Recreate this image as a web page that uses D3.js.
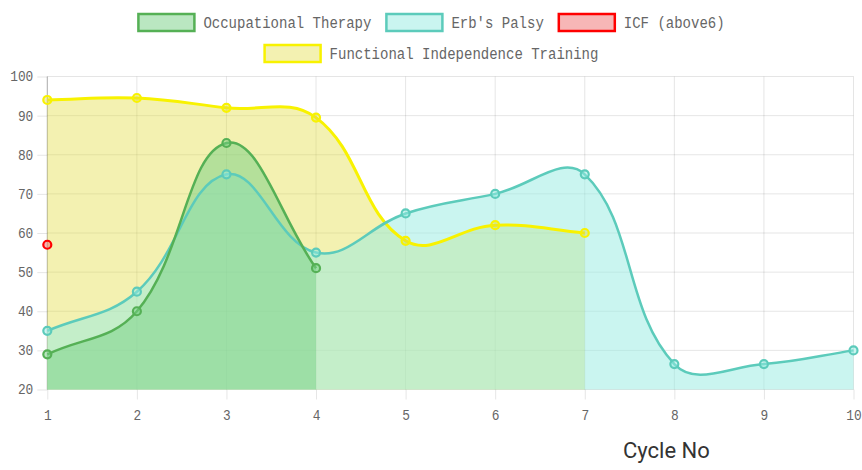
<!DOCTYPE html>
<html>
<head>
<meta charset="utf-8">
<script src="https://cdn.jsdelivr.net/npm/d3@7"></script>
<style>
  html, body { margin: 0; padding: 0; background: #fff; }
  .tick text { font-family: 'Liberation Mono', monospace; font-size: 14px; fill: #666; }
  .legend text { font-family: 'Liberation Mono', monospace; font-size: 16px; fill: #666; }
</style>
</head>
<body>
<svg class="chart"></svg>
<script>
const app = (function () {
  'use strict';

  // data
  const cycles = [1, 2, 3, 4, 5, 6, 7, 8, 9, 10];
  const occupational = [29, 40, 83, 51];
  const erbs = [35, 45, 75, 55, 65, 70, 75, 26.5, 26.5, 30];
  const icf = [57];
  const fit = [94, 94.5, 92, 89.5, 58, 62, 60];
  const yTicks = [20, 30, 40, 50, 60, 70, 80, 90, 100];
  const seriesNames = ['Occupational Therapy', 'Erb\'s Palsy', 'ICF (above6)', 'Functional Independence Training'];

  function init () {
    const w = 862;
    const h = 470;
    const left = 47.3;
    const right = 853.5;
    const top = 76.5;
    const bottom = 389.5;

    const series = [
      { name: seriesNames[0], values: occupational, stroke: '#55b055', fill: 'rgba(117,207,131,0.5)', width: 2.5 },
      { name: seriesNames[1], values: erbs, stroke: '#5ccbbb', fill: 'rgba(150,235,225,0.5)', width: 2.5 },
      { name: seriesNames[2], values: icf, stroke: '#ff0000', fill: 'rgba(240,110,110,0.5)', width: 2.5 },
      { name: seriesNames[3], values: fit, stroke: '#f8f200', fill: 'rgba(225,220,60,0.4)', width: 3 }
    ];

    const xScale = d3.scaleLinear()
      .domain([cycles[0], cycles[cycles.length - 1]])
      .range([left, right]);

    const yScale = d3.scaleLinear()
      .domain([yTicks[0], yTicks[yTicks.length - 1]])
      .range([bottom, top]);

    const svg = d3.select('.chart')
      .attr('width', w)
      .attr('height', h);

    // grid
    svg.append('g')
      .selectAll('line')
      .data(yTicks)
      .enter()
      .append('line')
      .attr('x1', left).attr('x2', right)
      .attr('y1', function (d) { return yScale(d); })
      .attr('y2', function (d) { return yScale(d); })
      .attr('stroke', 'rgba(0,0,0,0.1)');
    svg.append('g')
      .selectAll('line')
      .data(cycles)
      .enter()
      .append('line')
      .attr('x1', function (d) { return xScale(d); })
      .attr('x2', function (d) { return xScale(d); })
      .attr('y1', top).attr('y2', bottom)
      .attr('stroke', 'rgba(0,0,0,0.1)');

    const yAxis = d3.axisLeft(yScale).tickValues(yTicks).tickSize(10).tickPadding(4);
    const xAxis = d3.axisBottom(xScale).tickValues(cycles).tickSize(10).tickPadding(11);

    const gy = svg.append('g')
      .attr('transform', 'translate(' + left + ',0)')
      .call(yAxis);
    gy.select('.domain').remove();
    gy.selectAll('.tick line').attr('stroke', 'rgba(0,0,0,0.1)');
    gy.selectAll('.tick text').attr('textLength', function (d) { return String(d).length * 7.7; })
      .attr('lengthAdjust', 'spacingAndGlyphs');

    const gx = svg.append('g')
      .attr('transform', 'translate(0,' + bottom + ')')
      .call(xAxis);
    gx.select('.domain').remove();
    gx.selectAll('.tick line').attr('stroke', 'rgba(0,0,0,0.1)');
    gx.selectAll('.tick text').attr('textLength', function (d) { return String(d).length * 7.7; })
      .attr('lengthAdjust', 'spacingAndGlyphs');

    // left axis line
    svg.append('line')
      .attr('x1', left).attr('x2', left)
      .attr('y1', top).attr('y2', bottom)
      .attr('stroke', 'rgba(0,0,0,0.25)');

    const curve = chartSpline(0.4, left, right, top, bottom);

    const area = d3.area()
      .x(function (d, i) { return xScale(cycles[i]); })
      .y0(yScale(yTicks[0]))
      .y1(function (d) { return yScale(d); })
      .curve(curve);

    const line = d3.line()
      .x(function (d, i) { return xScale(cycles[i]); })
      .y(function (d) { return yScale(d); })
      .curve(curve);

    const drawOrder = series.slice().reverse();

    // fills first (last dataset at the bottom)
    drawOrder.forEach(function (s) {
      if (s.values.length < 2) return;
      svg.append('path')
        .datum(s.values)
        .attr('d', area)
        .attr('fill', s.fill);
    });

    drawOrder.forEach(function (s) {
      if (s.values.length > 1) {
        svg.append('path')
          .datum(s.values)
          .attr('d', line)
          .attr('fill', 'none')
          .attr('stroke', s.stroke)
          .attr('stroke-width', s.width);
      }
      svg.append('g')
        .selectAll('circle')
        .data(s.values)
        .enter()
        .append('circle')
        .attr('cx', function (d, i) { return xScale(cycles[i]); })
        .attr('cy', function (d) { return yScale(d); })
        .attr('r', 4)
        .attr('fill', s.fill)
        .attr('stroke', s.stroke)
        .attr('stroke-width', 2.2);
    });

    // legend, wrapped into centred rows
    const boxW = 58;
    const boxH = 17;
    const charW = 8.4;
    const gap = 14;
    const rows = [[]];
    let rowW = 0;
    series.forEach(function (s) {
      const itemW = boxW + 8 + s.name.length * charW;
      if (rowW > 0 && rowW + gap + itemW > w - 40) {
        rows.push([]);
        rowW = 0;
      }
      rows[rows.length - 1].push({ s: s, w: itemW });
      rowW += (rowW > 0 ? gap : 0) + itemW;
    });

    const legend = svg.append('g').attr('class', 'legend');
    rows.forEach(function (row, r) {
      const total = d3.sum(row, function (d) { return d.w; }) + gap * (row.length - 1);
      let x = (w - total) / 2;
      const cy = 22.5 + r * 31;
      row.forEach(function (item) {
        legend.append('rect')
          .attr('x', x + 1).attr('y', cy - boxH / 2)
          .attr('width', boxW - 2).attr('height', boxH)
          .attr('fill', item.s.fill)
          .attr('stroke', item.s.stroke)
          .attr('stroke-width', 2.5);
        legend.append('text')
          .attr('x', x + boxW + 8)
          .attr('y', cy + 5.5)
          .attr('textLength', item.s.name.length * charW)
          .attr('lengthAdjust', 'spacingAndGlyphs')
          .text(item.s.name);
        x += item.w + gap;
      });
    });

    // xAxis label
    svg.append('text')
      .attr('x', 623)
      .attr('y', 458)
      .style('font-family', 'Roboto, sans-serif')
      .style('font-size', '22px')
      .style('fill', '#333')
      .text('Cycle No');
  }

  // bezier spline like the one used by the original chart (distance weighted)
  function chartSpline (tension, x0, x1, y0, y1) {
    function cx (v) { return Math.max(x0, Math.min(x1, v)); }
    function cy (v) { return Math.max(y0, Math.min(y1, v)); }
    return function (context) {
      let pts;
      let ln;
      return {
        areaStart: function () { ln = 0; },
        areaEnd: function () { ln = NaN; },
        lineStart: function () { pts = []; },
        point: function (x, y) { pts.push([+x, +y]); },
        lineEnd: function () {
          const n = pts.length;
          if (n) {
            if (ln) context.lineTo(pts[0][0], pts[0][1]);
            else context.moveTo(pts[0][0], pts[0][1]);
            const cps = pts.map(function (p, i) {
              const prev = pts[Math.max(i - 1, 0)];
              const next = pts[Math.min(i + 1, n - 1)];
              const d01 = Math.hypot(p[0] - prev[0], p[1] - prev[1]);
              const d12 = Math.hypot(next[0] - p[0], next[1] - p[1]);
              let s01 = d01 / (d01 + d12);
              let s12 = d12 / (d01 + d12);
              if (isNaN(s01)) s01 = 0;
              if (isNaN(s12)) s12 = 0;
              const fa = tension * s01;
              const fb = tension * s12;
              return {
                px: cx(p[0] - fa * (next[0] - prev[0])),
                py: cy(p[1] - fa * (next[1] - prev[1])),
                nx: cx(p[0] + fb * (next[0] - prev[0])),
                ny: cy(p[1] + fb * (next[1] - prev[1]))
              };
            });
            for (let i = 1; i < n; i++) {
              context.bezierCurveTo(cps[i - 1].nx, cps[i - 1].ny, cps[i].px, cps[i].py, pts[i][0], pts[i][1]);
            }
          }
          if (ln || (ln !== 0 && n === 1)) context.closePath();
          ln = 1 - ln;
        }
      };
    };
  }

  return {
    init: init
  };
}());

window.addEventListener('load', app.init);
</script>
</body>
</html>
